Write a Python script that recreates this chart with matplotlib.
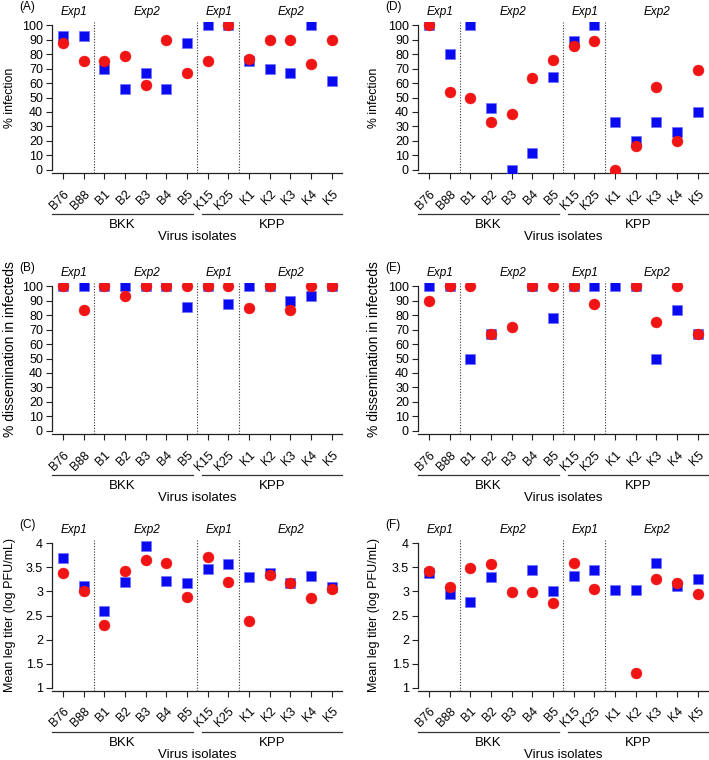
import numpy as np
import matplotlib
matplotlib.use('Agg')
import matplotlib.pyplot as plt
import matplotlib.transforms as mtransforms

plt.rcParams['font.family'] = ['Liberation Sans', 'DejaVu Sans']

nan = np.nan
isolates = ['B76', 'B88', 'B1', 'B2', 'B3', 'B4', 'B5',
            'K15', 'K25', 'K1', 'K2', 'K3', 'K4', 'K5']

# (A) % infection
a_blue = [92.5, 92.5, 70, 55.6, 66.7, 55.6, 87.5, 100, 100, 75, 70, 66.7, 100, 61.1]
a_red = [87.5, 75, 75, 78.9, 58.3, 90, 66.7, 75, 100, 76.5, 89.5, 90, 73.3, 90]
# (B) % dissemination in infecteds
b_blue = [100, 100, 100, 100, 100, 100, 85.7, 100, 87.5, 100, 100, 90, 93.3, 100]
b_red = [100, 83.3, 100, 93.3, 100, 100, 100, 100, 100, 84.6, 100, 83.3, 100, 100]
# (C) mean leg titer
c_blue = [3.70, 3.12, 2.59, 3.19, 3.95, 3.22, 3.17, 3.46, 3.57, 3.30, 3.38, 3.18, 3.32, 3.10]
c_red = [3.38, 3.00, 2.31, 3.43, 3.66, 3.59, 2.88, 3.72, 3.20, 2.39, 3.34, 3.17, 2.86, 3.06]
# (D) % infection
d_blue = [100, 80, 100, 42.9, 0, 11.8, 64.3, 88.9, 100, 33.3, 20, 33.3, 26.1, 40]
d_red = [100, 53.8, 50, 33.3, 38.9, 63.6, 76.2, 85.7, 88.9, 0, 16.7, 57.1, 20, 69.2]
# (E) % dissemination in infecteds
e_blue = [100, 100, 50, 66.7, nan, 100, 77.8, 100, 100, 100, 100, 50, 83.3, 66.7]
e_red = [90, 100, 100, 66.7, 71.4, 100, 100, 100, 87.5, nan, 100, 75, 100, 66.7]
# (F) mean leg titer
f_blue = [3.39, 2.95, 2.78, 3.29, nan, 3.45, 3.00, 3.33, 3.44, 3.04, 3.04, 3.60, 3.12, 3.25]
f_red = [3.42, 3.10, 3.48, 3.56, 2.98, 2.99, 2.77, 3.59, 3.06, nan, 1.30, 3.26, 3.18, 2.94]

exp_labels = ['Exp1', 'Exp2', 'Exp1', 'Exp2']
exp_pos = [0.55, 4.05, 7.55, 11.05]
dividers = [1.5, 6.5, 8.5]
groups = ['BKK', 'KPP']
group_spans = [(-0.53, 6.28), (6.72, 13.5)]

W, H = 709, 760
fig = plt.figure(figsize=(W / 100, H / 100), dpi=100)

pct_ticks = list(range(0, 101, 10))
titer_ticks = [1, 1.5, 2, 2.5, 3, 3.5, 4]
titer_labels = ['1', '1.5', '2', '2.5', '3', '3.5', '4']

rows = [(21.7, 173.3), (282.7, 434.3), (540, 691)]
cols = [52, 418]
ylab_x = [10, 374]

# tag, y label, label size, label centre shift (px), blue, red, row, col
panels = [
    ('(A)', '% infection', 8.8, 0, a_blue, a_red, 0, 0),
    ('(B)', '% dissemination in infecteds', 10.0, -9, b_blue, b_red, 1, 0),
    ('(C)', 'Mean leg titer (log PFU/mL)', 9.0, 0, c_blue, c_red, 2, 0),
    ('(D)', '% infection', 8.8, 0, d_blue, d_red, 0, 1),
    ('(E)', '% dissemination in infecteds', 10.0, -9, e_blue, e_red, 1, 1),
    ('(F)', 'Mean leg titer (log PFU/mL)', 9.0, 0, f_blue, f_red, 2, 1),
]

x = np.arange(len(isolates))
shift = mtransforms.ScaledTranslation(3 / 100, 0, fig.dpi_scale_trans)

for tag, ylab, yls, ysh, blue, red, r, c in panels:
    top, bot = rows[r]
    left = cols[c]
    ax = fig.add_axes([left / W, 1 - bot / H, 290 / W, (bot - top) / H])
    ax.plot(x, blue, 's', color='#0a0af0', mec='#7070ff', mew=0.5, ms=7.6, zorder=3)
    ax.plot(x, red, 'o', color='#f01414', mec='#f01414', mew=0.3, ms=7.9, zorder=4)
    for d in dividers:
        ax.axvline(d, color='#333333', ls=(0, (1, 1.5)), lw=0.8, zorder=1)
    ax.set_xlim(-0.53, 13.5)
    if r < 2:
        ax.set_ylim(-2.28, 102.28)
        ax.set_yticks(pct_ticks)
        ax.set_yticklabels([str(t) for t in pct_ticks])
        ax.spines['left'].set_bounds(0, 100)
    else:
        ax.set_ylim(0.931, 4.069)
        ax.set_yticks(titer_ticks)
        ax.set_yticklabels(titer_labels)
        ax.spines['left'].set_bounds(1, 4)
    for s in ['top', 'right']:
        ax.spines[s].set_visible(False)
    for s in ['left', 'bottom']:
        ax.spines[s].set_linewidth(0.9)
        ax.spines[s].set_color('#222222')
    ax.set_xticks(x)
    ax.set_xticklabels(isolates, rotation=45, ha='right', va='top',
                       rotation_mode='anchor', fontsize=8.8)
    for lbl in ax.get_xticklabels():
        lbl.set_transform(lbl.get_transform() + shift)
    ax.tick_params(axis='both', length=4.5, width=0.8, color='#222222', pad=2)
    ax.tick_params(axis='y', labelsize=9)
    ax.tick_params(axis='x', pad=6, labelsize=8.8)

    # Exp labels above the plot
    trans = mtransforms.blended_transform_factory(ax.transData, fig.transFigure)
    for lab, xp in zip(exp_labels, exp_pos):
        ax.text(xp, 1 - (top - 10) / H, lab, transform=trans, ha='center',
                va='center', fontsize=8.5, style='italic')
    fig.text((left - 25) / W, 1 - (top - 15) / H, tag,
             ha='center', va='center', fontsize=8.5)

    # group lines and names
    for g, (x0, x1) in zip(groups, group_spans):
        ax.plot([x0, x1], [1 - (bot + 41) / H] * 2, color='#333333', lw=0.9,
                transform=trans, clip_on=False)
        ax.text((x0 + x1) / 2, 1 - (bot + 52) / H, g, transform=trans,
                ha='center', va='center', fontsize=9.5)
    fig.text((left + 145) / W, 1 - (bot + 64) / H, 'Virus isolates',
             ha='center', va='center', fontsize=9.5)
    fig.text(ylab_x[c] / W, 1 - ((top + bot) / 2 + ysh) / H, ylab, rotation=90,
             ha='center', va='center', fontsize=yls)

fig.savefig('out.png', dpi=100)
